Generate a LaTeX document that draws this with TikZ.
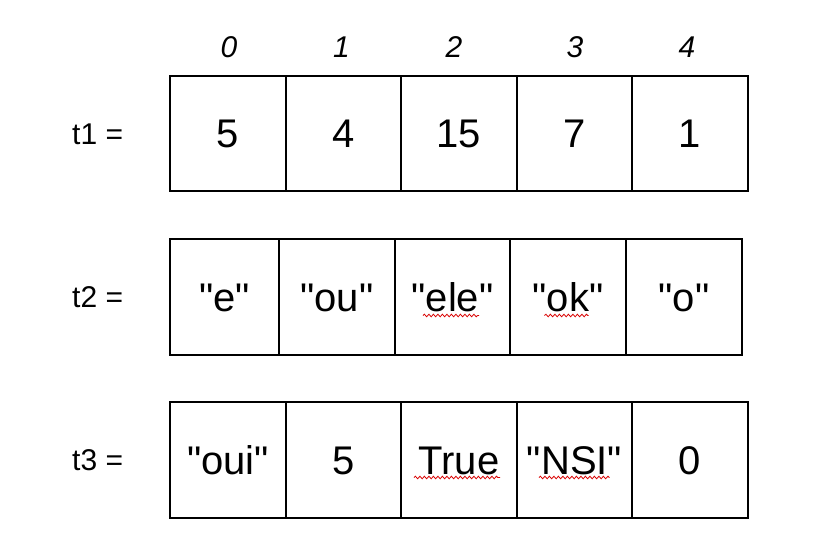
\documentclass[tikz,border=0pt]{standalone}
\usepackage{fontspec}
\setmainfont{Liberation Sans}
\usetikzlibrary{decorations.pathmorphing}
\newcommand\qq{\textquotedbl}
\tikzset{
  cell/.style={draw=black, line width=1.8pt, rectangle, inner sep=0pt, text height=28pt, text depth=0pt, font=\fontsize{40}{46}\selectfont},
  rowlabel/.style={anchor=west, inner sep=0pt, font=\fontsize{30}{36}\selectfont},
  idx/.style={inner sep=0pt, font=\fontsize{30}{36}\selectfont\itshape},
  squig/.style={draw=red!85!black, line width=0.8pt, decorate, decoration={snake, amplitude=1.3pt, segment length=4.5pt}}
}
\begin{document}
\begin{tikzpicture}[x=1pt,y=-1pt]
\useasboundingbox (0,0) rectangle (815,552);
% t1
\foreach \i/\l/\r/\t in {0/170/286/5, 1/286/401/4, 2/401/517/15, 3/517/632/7, 4/632/748/1}
  \node[cell, minimum width={(\r-\l)*1pt}, minimum height=115pt] (a\i) at ({(\l+\r)/2}, 133.5) {\t};
% t2
\foreach \i/\l/\r/\t in {0/170/279/\qq e\qq, 1/279/395/\qq ou\qq, 2/395/510/\qq ele\qq, 3/510/626/\qq ok\qq, 4/626/742/\qq o\qq}
  \node[cell, minimum width={(\r-\l)*1pt}, minimum height=116pt] (b\i) at ({(\l+\r)/2}, 297) {\t};
% t3
\foreach \i/\l/\r/\t in {0/170/286/\qq oui\qq, 1/286/401/5, 2/401/517/True, 3/517/632/\qq NSI\qq, 4/632/748/0}
  \node[cell, minimum width={(\r-\l)*1pt}, minimum height=116pt] (c\i) at ({(\l+\r)/2}, 460) {\t};
% indices
\foreach \i/\x in {0/229, 1/341.5, 2/454, 3/575, 4/687}
  \node[idx] (i\i) at (\x, 47) {\i};
% row labels
\node[rowlabel] (l1) at (72, 134) {t1 =};
\node[rowlabel] (l2) at (72, 297) {t2 =};
\node[rowlabel] (l3) at (72, 460) {t3 =};
% spell-check squiggles
\draw[squig] (423,315.5) -- (479,315.5);
\draw[squig] (544.5,315.5) -- (588.5,315.5);
\draw[squig] (414,477.5) -- (500,477.5);
\draw[squig] (539,477.5) -- (609.5,477.5);
\end{tikzpicture}
\end{document}
